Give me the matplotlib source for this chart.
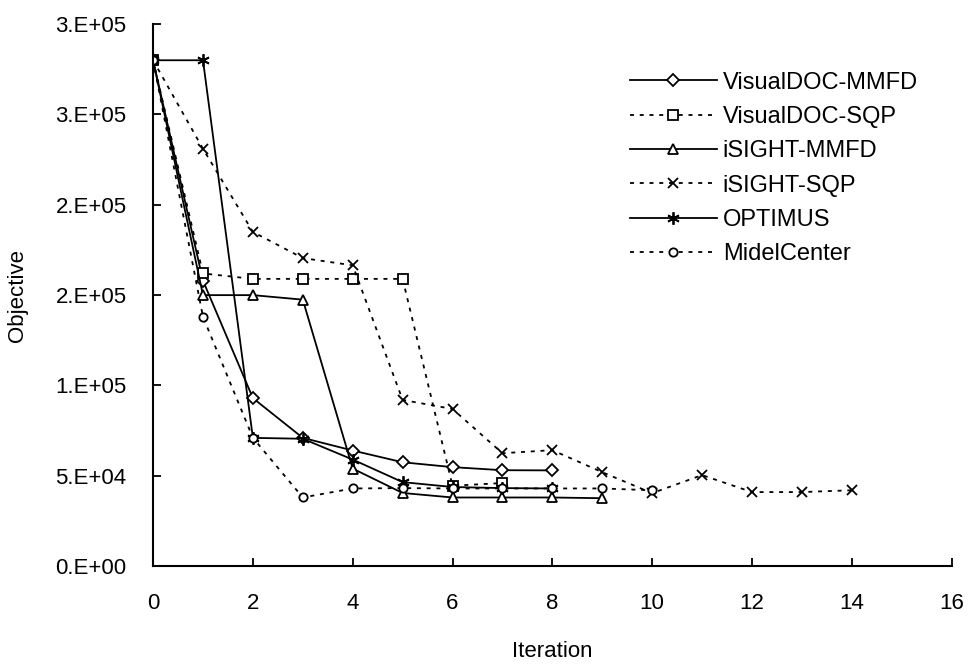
import matplotlib
matplotlib.use("Agg")
import matplotlib.pyplot as plt

# values (objective per iteration)
vdoc_mmfd = [280000, 158000, 93000, 71000, 64000, 57500, 54800, 53100, 53000]
vdoc_sqp = [280000, 162000, 159000, 159000, 159000, 159000, 44500, 46000]
isight_mmfd = [280000, 150000, 150000, 147500, 54000, 40500, 38000, 38000, 38000, 37600]
isight_sqp = [280000, 231000, 185000, 170500, 166500, 92000, 87000, 62500,
              64200, 52000, 40400, 50400, 41000, 41000, 42000]
optimus = [280000, 280000, 71000, 70500, 59000, 46500, 43800, 43200, 43000]
midel_center = [280000, 138000, 71000, 38000, 43000, 43200, 43000, 43000, 43000, 43000, 42000]

series_names = ["VisualDOC-MMFD", "VisualDOC-SQP", "iSIGHT-MMFD",
                "iSIGHT-SQP", "OPTIMUS", "MidelCenter"]

ytick_values = [0, 50000, 100000, 150000, 200000, 250000, 300000]
ytick_labels = ["0.E+00", "5.E+04", "1.E+05", "2.E+05", "2.E+05", "3.E+05", "3.E+05"]
xtick_values = [0, 2, 4, 6, 8, 10, 12, 14, 16]

plt.rcParams["font.family"] = ["Liberation Sans", "DejaVu Sans"]

fig = plt.figure(figsize=(9.75, 6.7), dpi=100)
ax = fig.add_axes([0.157, 0.155, 0.819, 0.809])

dotted = (0, (2.2, 3.2))
styles = [
    (vdoc_mmfd, "-", "D", 6),
    (vdoc_sqp, dotted, "s", 7),
    (isight_mmfd, "-", "^", 7),
    (isight_sqp, dotted, "x", 7),
    (optimus, "-", (6, 2, 0), 9),
    (midel_center, dotted, "o", 6),
]

for (vals, ls, mk, ms), name in zip(styles, series_names):
    ax.plot(range(len(vals)), vals, linestyle=ls, marker=mk, markersize=ms,
            color="black", linewidth=1.3, markerfacecolor="white",
            markeredgecolor="black", markeredgewidth=1.3, label=name)

ax.set_xlim(0, 16)
ax.set_ylim(0, 300000)
ax.set_xticks(xtick_values)
ax.set_yticks(ytick_values)
ax.set_yticklabels(ytick_labels)
ax.spines["top"].set_visible(False)
ax.spines["right"].set_visible(False)
for s in ("left", "bottom"):
    ax.spines[s].set_linewidth(1.5)
ax.tick_params(direction="in", length=6, width=1.3, labelsize=16)
ax.tick_params(axis="x", pad=19)
ax.tick_params(axis="y", pad=19)

ax.set_xlabel("Iteration", fontsize=16, labelpad=20)
ax.set_ylabel("Objective", fontsize=16, labelpad=20)

leg = ax.legend(loc="upper left", bbox_to_anchor=(0.636, 0.907),
                bbox_transform=fig.transFigure, frameon=False, fontsize=17,
                handlelength=3.7, handletextpad=0.25, labelspacing=0.52,
                borderaxespad=0)

fig.savefig("out.png", dpi=100)
